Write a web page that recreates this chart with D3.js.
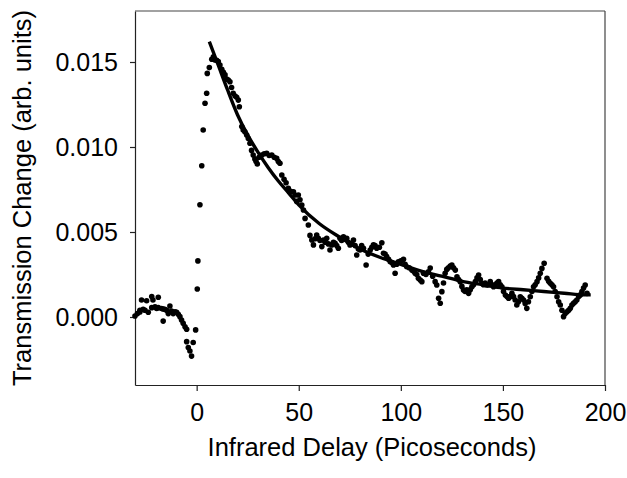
<!DOCTYPE html>
<html>
<head>
<meta charset="utf-8">
<script src="https://cdn.jsdelivr.net/npm/d3@7/dist/d3.min.js"></script>
<style>
html,body{margin:0;padding:0;background:#fff;}
svg{display:block;}
text{font-family:"Liberation Sans",Arial,sans-serif;fill:#000;}
</style>
</head>
<body>
<svg id="chart" width="627" height="478"></svg>
<script>
// Data: infrared delay (ps) and transmission change (arb. units)
const delay = [
-30.2,-27.8,-27.0,-24.5,-22.0,-21.4,-18.8,-27.8,-25.3,-23.7,-22.0,-20.4,-18.8,-16.4,-14.7,-13.1,-13.9,-11.5,-9.8,-9.0,-8.2,-7.4,-6.6,-5.7,-4.9,-16.4,-29.0,-26.2,-19.6,-17.2,-15.6,-12.3,-10.6,
-4.9,-1.7,-4.1,-3.3,-2.5,-0.5,0.3,
0.6,1.6,2.5,3.2,4.1,4.9,5.2,6.2,7.4,8.2,9.0,9.8,10.6,11.4,12.3,13.1,13.9,14.7,15.5,16.3,17.1,17.9,18.8,19.6,20.4,20.9,22.1,22.8,23.6,24.5,25.3,26.1,26.9,27.7,28.5,29.1,29.7,30.6,31.9,33.1,34.3,35.5,36.8,38.0,39.2,40.0,40.8,41.7,42.8,43.8,44.9,46.0,47.4,48.2,49.0,49.8,50.6,51.5,52.3,53.1,54.7,55.5,56.4,57.2,58.0,58.8,59.6,60.4,61.3,62.1,62.9,63.7,64.5,65.3,66.2,67.0,67.8,68.6,69.4,70.2,71.0,71.9,72.7,73.5,74.3,75.1,76.0,76.8,77.6,78.4,79.2,80.0,80.8,81.7,83.0,84.0,85.0,85.8,86.6,87.4,88.2,89.5,90.7,91.5,92.3,93.1,94.0,94.8,95.6,96.4,97.2,98.0,98.8,100.0,101.3,102.1,102.9,104.1,105.4,106.2,107.0,107.8,108.6,109.5,110.3,111.1,112.3,113.5,114.4,115.6,116.8,117.6,118.5,119.3,120.1,120.9,121.7,122.5,123.3,124.2,125.0,125.8,126.7,127.5,128.3,129.1,129.9,130.7,131.5,132.3,133.2,134.0,134.8,135.6,136.5,137.3,138.1,138.9,139.7,140.5,141.3,142.1,142.9,143.8,144.6,145.4,146.2,147.1,147.9,148.7,149.5,150.3,151.2,152.0,152.8,153.6,154.4,155.2,156.0,156.8,157.6,158.5,159.3,160.1,160.9,161.7,162.5,163.4,164.2,165.0,165.8,166.7,167.5,168.3,169.1,170.2,171.6,172.4,173.2,174.0,174.8,175.6,176.5,177.3,178.1,178.9,179.7,180.5,181.4,182.2,183.0,183.8,184.6,185.4,186.2,187.1,187.9,188.7,189.5,190.3,191.2,192.0
];
const signal = [
0.00006,0.0004,0.0010,0.00096,0.0012,0.0010,0.00116,0.0003,0.0004,0.00028,0.00055,0.0006,0.00055,0.00047,0.0004,0.00065,0.0002,0.0002,0.00028,0.00016,0.00002,-0.00018,-0.00037,-0.00057,-0.00072,-0.00024,0.0002,0.00045,0.0005,0.0005,0.00045,0.00035,0.0003,
-0.00145,-0.0015,-0.0018,-0.0020,-0.0023,-0.00076,0.00165,
0.0033,0.0066,0.0089,0.0110,0.01257,0.01316,0.01433,0.01467,0.01516,0.0153,0.01512,0.0151,0.01502,0.01482,0.01457,0.0144,0.01424,0.0140,0.01394,0.01384,0.0135,0.01316,0.0130,0.01292,0.01276,0.01237,0.0112,0.0110,0.0109,0.0107,0.0105,0.01022,0.0098,0.00953,0.0093,0.00914,0.0090,0.0094,0.00953,0.0096,0.00963,0.0095,0.00953,0.0094,0.00933,0.00914,0.00904,0.00835,0.0081,0.0079,0.00757,0.0074,0.00737,0.00718,0.0068,0.00718,0.0069,0.00659,0.00629,0.0058,0.00541,0.0048,0.00453,0.00424,0.0046,0.00482,0.00463,0.0045,0.00414,0.00453,0.0044,0.00463,0.0043,0.00394,0.00424,0.0044,0.00434,0.0042,0.00404,0.00463,0.0045,0.00472,0.0046,0.00463,0.0044,0.00424,0.0043,0.00453,0.0042,0.00365,0.0040,0.00394,0.0042,0.00404,0.00306,0.0037,0.00394,0.0041,0.00424,0.0042,0.00404,0.0041,0.00437,0.00375,0.0037,0.00355,0.0034,0.00325,0.0032,0.00306,0.00257,0.0031,0.00325,0.0033,0.00339,0.0031,0.00296,0.0029,0.00276,0.0027,0.00257,0.0025,0.00228,0.00218,0.00208,0.00257,0.0025,0.00266,0.00288,0.0024,0.00208,0.00188,0.0011,0.00081,0.00149,0.0020,0.00257,0.0028,0.0029,0.0030,0.00306,0.0029,0.00276,0.00237,0.0022,0.00208,0.0018,0.00159,0.0015,0.0016,0.00139,0.0016,0.00178,0.0019,0.00208,0.0023,0.00247,0.0022,0.00198,0.0019,0.0020,0.00188,0.0019,0.00208,0.0019,0.00178,0.0019,0.0020,0.00208,0.0019,0.00178,0.0015,0.00129,0.0012,0.0011,0.0012,0.00139,0.0012,0.0010,0.00071,0.0009,0.00119,0.0011,0.0010,0.0008,0.00051,0.0009,0.00119,0.0015,0.00178,0.0019,0.00208,0.0023,0.00257,0.00286,0.00316,0.00228,0.0021,0.00198,0.0019,0.00178,0.0015,0.00119,0.0009,0.00071,0.0004,0.00002,0.0002,0.00031,0.0004,0.00051,0.0007,0.00081,0.0009,0.0010,0.0012,0.0013,0.00149,0.0017,0.00188,0.00139
];
// Fitted decay curve
const fitDelay  = [6.2,10,15,20,25,30,35,40,45,50,60,70,80,90,100,110,120,130,140,150,160,170,180,190,193];
const fitSignal = [0.0162,0.0150,0.0134,0.0119,0.0107,0.0097,0.0088,0.0080,0.0073,0.0066,0.0055,0.0047,0.0040,0.0035,0.0031,0.0027,0.0024,0.0021,0.0019,0.0017,0.0016,0.0015,0.0014,0.0013,0.0013];

const xTicks = [0,50,100,150,200];
const yTicks = [0.000,0.005,0.010,0.015];
const xDomain = [-30.2,200];
const yDomain = [-0.004,0.018];
const xTitle = "Infrared Delay (Picoseconds)";
const yTitle = "Transmission Change (arb. units)";

const svg = d3.select("#chart");
const m = {left:135, right:605, top:11, bottom:385};
const x = d3.scaleLinear().domain(xDomain).range([m.left,m.right]);
const y = d3.scaleLinear().domain(yDomain).range([m.bottom,m.top]);

// axes
const xAxis = svg.append("g").attr("transform",`translate(0,${m.bottom})`)
  .call(d3.axisBottom(x).tickValues(xTicks).tickFormat(d3.format("d")).tickSizeInner(6).tickSizeOuter(0).tickPadding(12));
const yAxis = svg.append("g").attr("transform",`translate(${m.left},0)`)
  .call(d3.axisLeft(y).tickValues(yTicks).tickFormat(d3.format(".3f")).tickSizeInner(5).tickSizeOuter(0).tickPadding(12));
[xAxis,yAxis].forEach(g=>{
  g.select(".domain").attr("stroke","#222").attr("stroke-width",1.2);
  g.selectAll(".tick line").attr("stroke","#222").attr("stroke-width",1.2);
  g.selectAll(".tick text").attr("font-size",25).attr("font-family","Liberation Sans, Arial, sans-serif").attr("fill","#000");
});

// frame: top and right edges
const frame = svg.append("g").attr("fill","none").attr("stroke","#444").attr("stroke-width",1.2);
frame.append("line").attr("x1",m.left).attr("x2",m.right).attr("y1",m.top).attr("y2",m.top);
frame.append("line").attr("x1",m.right).attr("x2",m.right).attr("y1",m.top).attr("y2",m.bottom);

// titles
svg.append("text").attr("x",(m.left+m.right)/2+2).attr("y",456)
  .attr("text-anchor","middle").attr("font-size",25.5).text(xTitle);
svg.append("text").attr("transform",`translate(31,${(m.top+m.bottom)/2}) rotate(-90)`)
  .attr("text-anchor","middle").attr("font-size",25.5).text(yTitle);

// points
const n = Math.min(delay.length, signal.length);
const pts = d3.range(n).map(i=>[delay[i],signal[i]]);
svg.append("g").selectAll("circle").data(pts).join("circle")
  .attr("cx",d=>x(d[0])).attr("cy",d=>y(d[1])).attr("r",2.8).attr("fill","#000");

// fit line
const fit = fitDelay.map((d,i)=>[d,fitSignal[i]]);
svg.append("path").datum(fit)
  .attr("d",d3.line().x(d=>x(d[0])).y(d=>y(d[1])).curve(d3.curveMonotoneX))
  .attr("fill","none").attr("stroke","#000").attr("stroke-width",3.4);
</script>
</body>
</html>
